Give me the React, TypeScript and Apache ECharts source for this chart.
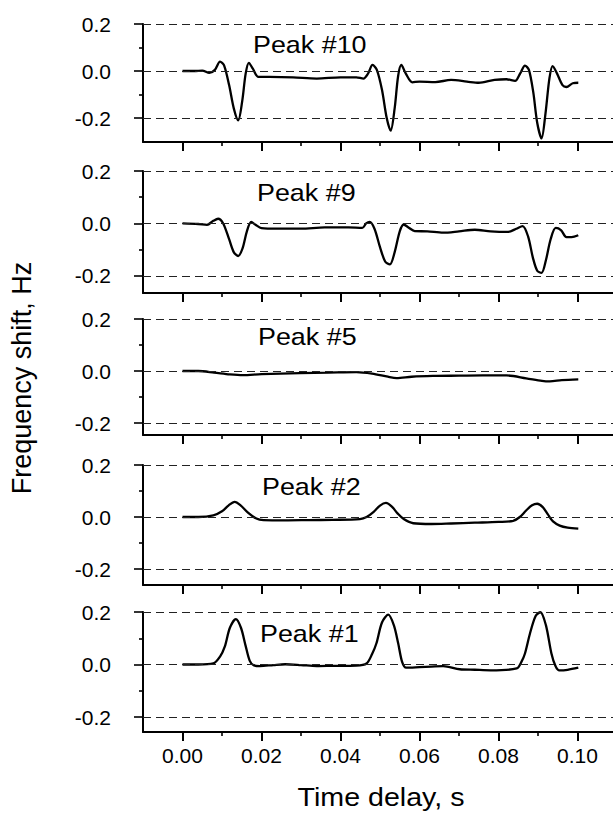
import React, { useEffect, useRef } from "react";
import * as echarts from "echarts";

// ---------- data ----------
const PANEL_NAMES = ["Peak #10", "Peak #9", "Peak #5", "Peak #2", "Peak #1"];

const X_MAJOR = [0, 0.02, 0.04, 0.06, 0.08, 0.1];
const X_MINOR = [0.01, 0.03, 0.05, 0.07, 0.09];
const Y_MAJOR = [-0.2, 0, 0.2];
const Y_MINOR = [-0.1, 0.1];
const X_RANGE = [-0.01, 0.11];
const Y_MAX = 0.2;
const Y_MIN = [-0.302, -0.265, -0.246, -0.2615, -0.257];

const peak10 = [
  [0.0, 0.0], [0.003, 0.0], [0.005, 0.002], [0.0068, -0.008], [0.0082, 0.005],
  [0.0095, 0.04], [0.0105, 0.025], [0.0118, -0.06], [0.013, -0.16], [0.0141, -0.21],
  [0.0151, -0.13], [0.016, -0.01], [0.0168, 0.035], [0.0178, 0.01], [0.0192, -0.025],
  [0.022, -0.025], [0.028, -0.027], [0.034, -0.032], [0.04, -0.027], [0.044, -0.027],
  [0.0458, -0.032], [0.047, -0.01], [0.0481, 0.026], [0.0492, 0.005], [0.0505, -0.08],
  [0.0517, -0.2], [0.0527, -0.254], [0.0537, -0.16], [0.0546, -0.02], [0.0554, 0.026],
  [0.0565, -0.01], [0.0582, -0.048], [0.06, -0.045], [0.064, -0.047], [0.068, -0.038],
  [0.072, -0.045], [0.075, -0.05], [0.079, -0.038], [0.082, -0.035], [0.0842, -0.042],
  [0.0855, -0.01], [0.0867, 0.023], [0.0877, 0.005], [0.0888, -0.09], [0.0898, -0.22],
  [0.0909, -0.287], [0.0919, -0.18], [0.0929, -0.03], [0.0937, 0.021], [0.0948, -0.01],
  [0.0962, -0.06], [0.0972, -0.068], [0.0988, -0.052], [0.1002, -0.05],
];

const peak9 = [
  [0.0, 0.0], [0.004, -0.002], [0.0062, -0.005], [0.0078, 0.01], [0.009, 0.018],
  [0.0103, 0.0], [0.0118, -0.06], [0.013, -0.11], [0.0141, -0.124], [0.0152, -0.095],
  [0.0163, -0.03], [0.0174, 0.006], [0.0185, -0.005], [0.02, -0.018], [0.024, -0.02],
  [0.03, -0.02], [0.036, -0.015], [0.042, -0.015], [0.0455, -0.017], [0.0465, 0.0],
  [0.0474, 0.006], [0.0486, -0.02], [0.05, -0.09], [0.0513, -0.145], [0.0525, -0.156],
  [0.0537, -0.11], [0.055, -0.03], [0.056, -0.004], [0.0572, -0.015], [0.0588, -0.029],
  [0.062, -0.03], [0.066, -0.035], [0.07, -0.03], [0.074, -0.024], [0.078, -0.03],
  [0.0825, -0.032], [0.0845, -0.02], [0.0861, -0.01], [0.0875, -0.05], [0.0887, -0.13],
  [0.0898, -0.18], [0.0909, -0.188], [0.092, -0.14], [0.0932, -0.06], [0.0945, -0.017],
  [0.0958, -0.025], [0.0972, -0.052], [0.0985, -0.052], [0.1002, -0.045],
];

const peak5 = [
  [0.0, 0.0], [0.004, 0.0], [0.008, -0.006], [0.012, -0.013], [0.0153, -0.016],
  [0.02, -0.012], [0.0297, -0.008], [0.037, -0.006], [0.044, -0.004], [0.048, -0.01],
  [0.052, -0.022], [0.0542, -0.027], [0.058, -0.022], [0.0634, -0.019], [0.07, -0.018],
  [0.076, -0.017], [0.082, -0.017], [0.087, -0.028], [0.091, -0.038], [0.093, -0.04],
  [0.096, -0.035], [0.1002, -0.032],
];

const peak2 = [
  [0.0, 0.0], [0.004, 0.0], [0.0078, 0.006], [0.01, 0.022], [0.0117, 0.045],
  [0.0132, 0.058], [0.0147, 0.045], [0.0165, 0.018], [0.0187, -0.006], [0.0205, -0.012],
  [0.026, -0.013], [0.032, -0.012], [0.038, -0.011], [0.0449, -0.008], [0.0466, 0.0],
  [0.0484, 0.02], [0.05, 0.044], [0.0515, 0.054], [0.053, 0.04], [0.0545, 0.013],
  [0.056, -0.008], [0.0584, -0.024], [0.063, -0.027], [0.068, -0.025], [0.074, -0.022],
  [0.08, -0.019], [0.0837, -0.015], [0.0854, 0.0], [0.087, 0.025], [0.0885, 0.045],
  [0.0898, 0.051], [0.0912, 0.038], [0.0925, 0.01], [0.0938, -0.017], [0.0955, -0.033],
  [0.0975, -0.041], [0.1002, -0.045],
];

const peak1 = [
  [0.0, 0.0], [0.004, 0.0], [0.0078, 0.004], [0.0095, 0.03], [0.0107, 0.068],
  [0.012, 0.14], [0.0135, 0.173], [0.0148, 0.14], [0.016, 0.07], [0.017, 0.015],
  [0.018, -0.003], [0.0196, -0.006], [0.023, -0.002], [0.026, 0.001], [0.03, -0.002],
  [0.034, -0.006], [0.038, -0.005], [0.044, -0.004], [0.0466, 0.004], [0.048, 0.04],
  [0.0491, 0.081], [0.0505, 0.16], [0.0521, 0.19], [0.0535, 0.15], [0.0546, 0.081],
  [0.0556, 0.01], [0.0566, -0.012], [0.06, -0.01], [0.063, -0.008], [0.066, -0.006],
  [0.0702, -0.018], [0.074, -0.02], [0.078, -0.022], [0.0846, -0.015], [0.0858, 0.01],
  [0.0867, 0.042], [0.088, 0.12], [0.0894, 0.185], [0.0906, 0.199], [0.092, 0.15],
  [0.0934, 0.042], [0.0944, -0.005], [0.0953, -0.022], [0.0975, -0.02], [0.1002, -0.012],
];

const SERIES_DATA = [peak10, peak9, peak5, peak2, peak1];

// ---------- layout ----------
const PANEL_LAYOUT = [
  { top: 24, height: 118, labelX: 253, labelY: 44.5 },
  { top: 171, height: 122, labelX: 257, labelY: 192.5 },
  { top: 319, height: 116, labelX: 258, labelY: 337 },
  { top: 465, height: 120, labelX: 262, labelY: 487 },
  { top: 612, height: 120, labelX: 260, labelY: 634 },
];
const GRID_LEFT = 143;
const GRID_WIDTH = 474;

const TEXT_FONT = '"Liberation Sans", Arial, Helvetica, sans-serif';

function buildOption() {
  const grid: any[] = [];
  const xAxis: any[] = [];
  const yAxis: any[] = [];
  const series: any[] = [];
  const graphic: any[] = [];
  const n = PANEL_NAMES.length;

  PANEL_LAYOUT.forEach((p, i) => {
    grid.push({
      left: GRID_LEFT,
      top: p.top,
      width: GRID_WIDTH,
      height: p.height,
      containLabel: false,
      outerBoundsMode: "none",
    });
    const isLast = i === n - 1;
    // major x axis
    xAxis.push({
      type: "value",
      gridIndex: i,
      min: X_RANGE[0],
      max: X_RANGE[1],
      position: "bottom",
      axisLine: { show: true, onZero: false, lineStyle: { color: "#000", width: 2 } },
      axisTick: { show: true, length: 9, customValues: X_MAJOR, lineStyle: { color: "#000", width: 2 } },
      axisLabel: {
        show: isLast,
        customValues: X_MAJOR,
        formatter: (v: number) => v.toFixed(2),
        fontFamily: TEXT_FONT,
        fontSize: 21,
        color: "#000",
        margin: 13,
      },
      splitLine: { show: false },
    });
    // minor x axis
    xAxis.push({
      type: "value",
      gridIndex: i,
      min: X_RANGE[0],
      max: X_RANGE[1],
      position: "bottom",
      axisLine: { show: false, onZero: false },
      axisTick: { show: true, length: 4, customValues: X_MINOR, lineStyle: { color: "#000", width: 1.6 } },
      axisLabel: { show: false },
      splitLine: { show: false },
    });
    // major y axis
    yAxis.push({
      type: "value",
      gridIndex: i,
      min: Y_MIN[i],
      max: Y_MAX,
      position: "left",
      axisLine: { show: true, onZero: false, lineStyle: { color: "#000", width: 2 } },
      axisTick: { show: true, length: 9, customValues: Y_MAJOR, lineStyle: { color: "#000", width: 1.6 } },
      axisLabel: {
        show: true,
        customValues: Y_MAJOR,
        formatter: (v: number) => v.toFixed(1),
        fontFamily: TEXT_FONT,
        fontSize: 21,
        color: "#000",
        margin: 32,
        padding: [0, 0, 5, 0],
      },
      splitLine: { show: false },
    });
    // minor y axis
    yAxis.push({
      type: "value",
      gridIndex: i,
      min: Y_MIN[i],
      max: Y_MAX,
      position: "left",
      axisLine: { show: false, onZero: false },
      axisTick: { show: true, length: 4, customValues: Y_MINOR, lineStyle: { color: "#000", width: 1.6 } },
      axisLabel: { show: false },
      splitLine: { show: false },
    });

    series.push({
      type: "line",
      xAxisIndex: i * 2,
      yAxisIndex: i * 2,
      data: SERIES_DATA[i],
      showSymbol: false,
      symbol: "none",
      smooth: 0.3,
      lineStyle: { color: "#000", width: 2.3 },
      silent: true,
      markLine: {
        silent: true,
        symbol: ["none", "none"],
        label: { show: false },
        lineStyle: { color: "#222", width: 1.2, type: [8, 5] },
        data: Y_MAJOR.map((v) => ({ yAxis: v })),
      },
    });

    graphic.push({
      type: "text",
      x: p.labelX,
      y: p.labelY,
      scaleX: 1.12,
      style: {
        text: PANEL_NAMES[i],
        fontFamily: TEXT_FONT,
        fontSize: 24,
        fill: "#000",
        align: "left",
        verticalAlign: "middle",
      },
    });
  });

  graphic.push({
    type: "text",
    x: 381,
    y: 797,
    scaleX: 1.1,
    style: {
      text: "Time delay, s",
      fontFamily: TEXT_FONT,
      fontSize: 26,
      fill: "#000",
      align: "center",
      verticalAlign: "middle",
    },
  });
  graphic.push({
    type: "text",
    x: 22,
    y: 378,
    rotation: Math.PI / 2,
    style: {
      text: "Frequency shift, Hz",
      fontFamily: TEXT_FONT,
      fontSize: 27,
      fill: "#000",
      align: "center",
      verticalAlign: "middle",
    },
  });

  return {
    animation: false,
    backgroundColor: "#fff",
    grid,
    xAxis,
    yAxis,
    series,
    graphic,
  };
}

export default function App() {
  const ref = useRef<HTMLDivElement>(null);
  useEffect(() => {
    if (!ref.current) return;
    const chart = echarts.init(ref.current, undefined, { renderer: "svg" });
    chart.setOption(buildOption() as any);
    return () => chart.dispose();
  }, []);
  return (
    <div
      ref={ref}
      style={{ position: "absolute", left: 0, top: 0, width: 613, height: 814, background: "#fff" }}
    />
  );
}
